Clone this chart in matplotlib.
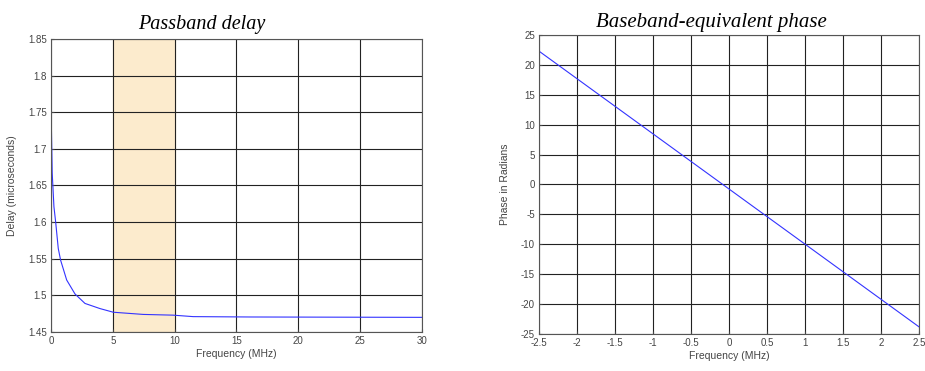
import matplotlib
matplotlib.use('Agg')
import matplotlib.pyplot as plt

# Dados do atraso na banda passante
freq_delay = [0, 0.02, 0.1, 0.24, 0.38, 0.59, 0.78, 1.27, 1.94, 2.75, 3.96, 5.04,
              7.46, 9.88, 11.5, 16.1, 30]
delay = [1.753, 1.742, 1.667, 1.621, 1.600, 1.564, 1.548, 1.521, 1.502, 1.489, 1.482,
         1.477, 1.474, 1.473, 1.471, 1.4705, 1.470]
banda = [5, 10]

# Dados da fase em banda base
freq_phase = [-2.5, 2.5]
phase = [22.3, -23.8]

delay_ticks = [1.45, 1.5, 1.55, 1.6, 1.65, 1.7, 1.75, 1.8, 1.85]
delay_ticklabels = ['1.45', '1.5', '1.55', '1.6', '1.65', '1.7', '1.75', '1.8', '1.85']
phase_xticks = [-2.5, -2, -1.5, -1, -0.5, 0, 0.5, 1, 1.5, 2, 2.5]
phase_yticks = [-25, -20, -15, -10, -5, 0, 5, 10, 15, 20, 25]

plt.rcParams['font.family'] = ['Liberation Sans', 'DejaVu Sans']
plt.rcParams['axes.unicode_minus'] = False
texto = '#444444'

fig = plt.figure(figsize=(9.25, 3.71), dpi=100)
ax1 = fig.add_axes([0.0551, 0.1051, 0.401, 0.790])
ax2 = fig.add_axes([0.5827, 0.0997, 0.4108, 0.806])

for ax in (ax1, ax2):
    ax.grid(True, color='#222222', linewidth=0.8)
    ax.set_axisbelow(True)
    for s in ax.spines.values():
        s.set_color('#555555')
        s.set_linewidth(0.8)
    ax.tick_params(direction='in', length=2, labelsize=7, colors=texto, pad=3)

# Primeiro gráfico
ax1.axvspan(banda[0], banda[1], color='#fcebcd', zorder=0)
ax1.plot(freq_delay, delay, color='#3333ff', linewidth=0.8)
ax1.set_xlim(0, 30)
ax1.set_ylim(1.45, 1.85)
ax1.set_xticks([0, 5, 10, 15, 20, 25, 30])
ax1.set_yticks(delay_ticks)
ax1.set_yticklabels(delay_ticklabels)
ax1.set_xlabel('Frequency (MHz)', fontsize=7.5, color=texto, labelpad=2)
ax1.set_ylabel('Delay (microseconds)', fontsize=7.5, color=texto, labelpad=8)
ax1.set_title('Passband delay', fontsize=14.5, family='Liberation Serif', style='italic',
              pad=7, x=0.407)

# Segundo gráfico
ax2.plot(freq_phase, phase, color='#3333ff', linewidth=0.8)
ax2.set_xlim(-2.5, 2.5)
ax2.set_ylim(-25, 25)
ax2.set_xticks(phase_xticks)
ax2.set_xticklabels([f'{v:g}' for v in phase_xticks])
ax2.set_yticks(phase_yticks)
ax2.set_xlabel('Frequency (MHz)', fontsize=7.5, color=texto, labelpad=2)
ax2.set_ylabel('Phase in Radians', fontsize=7.5, color=texto, labelpad=8)
ax2.set_title('Baseband-equivalent phase', fontsize=15, family='Liberation Serif', style='italic',
              pad=6, x=0.453)

fig.savefig('out.png', dpi=100)
